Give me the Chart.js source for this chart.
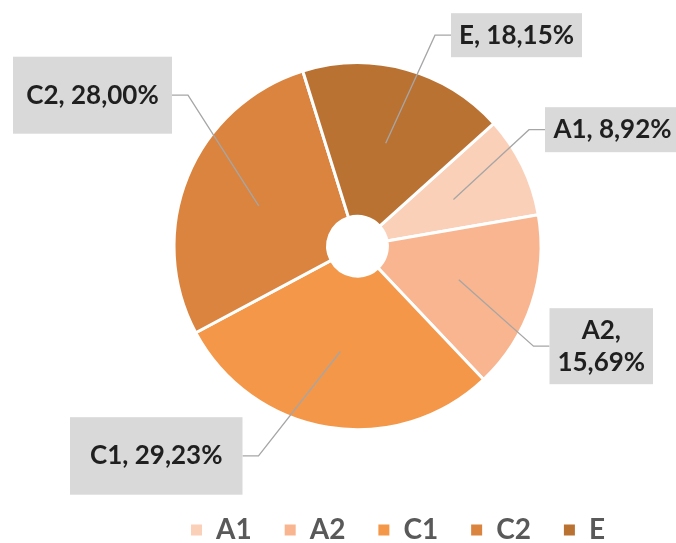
<!DOCTYPE html>
<html><head><meta charset="utf-8">
<script src="https://cdn.jsdelivr.net/npm/chart.js@4/dist/chart.umd.min.js"></script>
<style>html,body{margin:0;padding:0;background:#fff;}#wrap{width:676px;height:543px;position:relative;}</style>
</head><body><div id="wrap"><canvas id="c" width="676" height="543"></canvas></div>
<script>
// ---- data ----
const categories = ['A1', 'A2', 'C1', 'C2', 'E'];
const shares = [8.92, 15.69, 29.23, 28.00, 18.15];
const sliceColors = ['#FBD0B9', '#F8B58F', '#F49749', '#DA843F', '#BA7233'];

// ---- callout boxes (layout only), relative to the pie centre ----
const labelBoxes = [
  {dx: 187.5, dy: -139, w: 135, h: 45, side: 'right'},
  {dx: 192, dy: 62, w: 103.5, h: 76, side: 'right'},
  {dx: -287.5, dy: 171, w: 172.5, h: 77.5, side: 'left'},
  {dx: -344.5, dy: -189.5, w: 159, h: 77, side: 'left'},
  {dx: 93.5, dy: -233, w: 131, h: 44, side: 'right'}
];

function fmt(v) { return v.toFixed(2).replace('.', ',') + '%'; }

const calloutPlugin = {
  id: 'callouts',
  afterDatasetsDraw(chart) {
    const ctx = chart.ctx;
    const meta = chart.getDatasetMeta(0);
    meta.data.forEach((arc, i) => {
      const b = labelBoxes[i];
      const p = arc.tooltipPosition();
      const bx = arc.x + b.dx, by = arc.y + b.dy;
      const ly = by + b.h / 2;
      const ex = b.side === 'right' ? bx : bx + b.w;
      const kx = b.side === 'right' ? ex - 16 : ex + 16;
      ctx.save();
      ctx.strokeStyle = '#A6A6A6';
      ctx.lineWidth = 1.3;
      ctx.beginPath();
      ctx.moveTo(p.x, p.y);
      ctx.lineTo(kx, ly);
      ctx.lineTo(ex, ly);
      ctx.stroke();
      ctx.fillStyle = '#D9D9D9';
      ctx.fillRect(bx, by, b.w, b.h);
      ctx.fillStyle = '#1F1F1F';
      ctx.font = 'bold 26px Lato';
      ctx.textAlign = 'center';
      ctx.textBaseline = 'middle';
      const full = categories[i] + ', ' + fmt(shares[i]);
      const cxm = bx + b.w / 2, cym = by + b.h / 2;
      if (ctx.measureText(full).width > b.w - 10) {
        ctx.fillText(categories[i] + ',', cxm, cym - 16);
        ctx.fillText(fmt(shares[i]), cxm, cym + 16);
      } else {
        ctx.fillText(full, cxm, cym);
      }
      ctx.restore();
    });
  }
};

const baseGen = Chart.overrides.doughnut.plugins.legend.labels.generateLabels;

new Chart(document.getElementById('c'), {
  type: 'doughnut',
  data: {
    labels: categories,
    datasets: [{
      data: shares,
      backgroundColor: sliceColors,
      borderColor: '#FFFFFF',
      borderWidth: 3,
      hoverOffset: 0
    }]
  },
  options: {
    responsive: false,
    devicePixelRatio: 1,
    animation: false,
    rotation: 48,
    cutout: '16.3%',
    layout: {padding: {top: 61.2, bottom: -11, left: 77, right: 38}},
    plugins: {
      tooltip: {enabled: false},
      legend: {
        position: 'bottom',
        align: 'end',
        title: {display: true, text: '', padding: {top: 37.4, bottom: 0}, font: {size: 12}},
        labels: {
          boxWidth: 11,
          boxHeight: 11,
          padding: 33,
          color: '#595959',
          font: {family: 'Lato', size: 28, weight: 'bold'},
          generateLabels(chart) {
            return baseGen(chart).map(l => Object.assign(l, {lineWidth: 0, strokeStyle: 'rgba(0,0,0,0)'}));
          }
        }
      }
    }
  },
  plugins: [calloutPlugin]
});
</script>
</body></html>
